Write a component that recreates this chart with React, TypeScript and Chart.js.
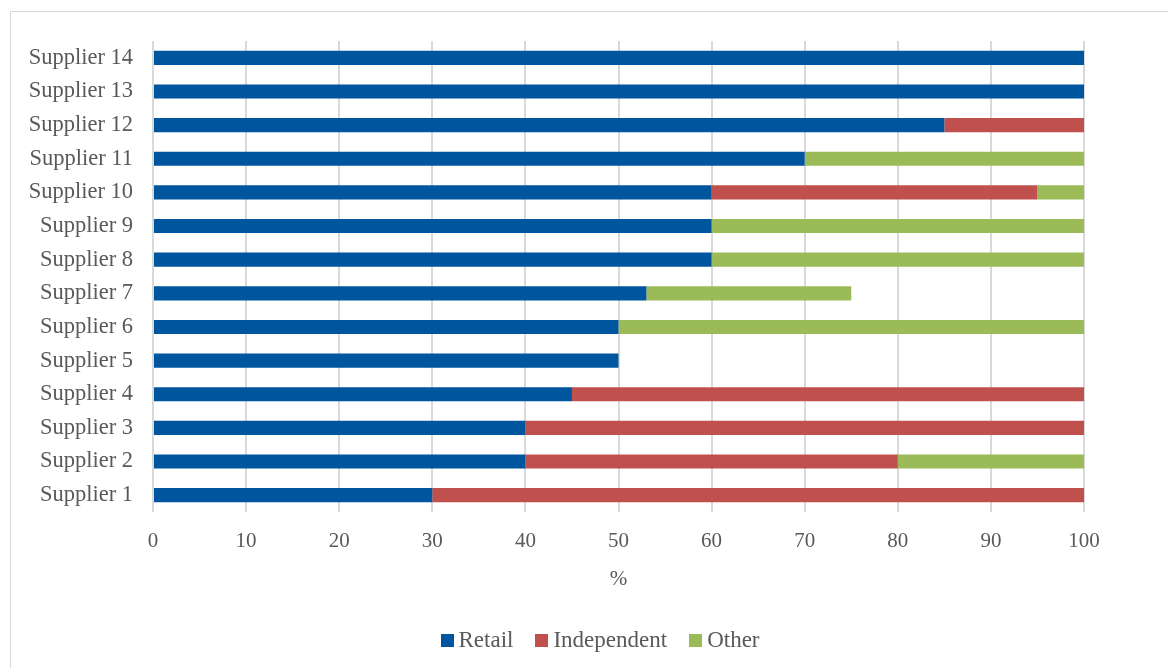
import React, { useEffect, useRef } from "react";
import { Chart, registerables } from "chart.js";

Chart.register(...registerables);

const categories = [
  "Supplier 1", "Supplier 2", "Supplier 3", "Supplier 4", "Supplier 5", "Supplier 6", "Supplier 7",
  "Supplier 8", "Supplier 9", "Supplier 10", "Supplier 11", "Supplier 12", "Supplier 13", "Supplier 14",
];
const retail = [30, 40, 40, 45, 50, 50, 53, 60, 60, 60, 70, 85, 100, 100];
const independent = [70, 40, 60, 55, 0, 0, 0, 0, 0, 35, 0, 15, 0, 0];
const other = [0, 20, 0, 0, 0, 50, 22, 40, 40, 5, 30, 0, 0, 0];
const xTicks = [0, 10, 20, 30, 40, 50, 60, 70, 80, 90, 100];
const seriesNames = ["Retail", "Independent", "Other"];
const seriesColors = ["#00559F", "#C0504D", "#9BBB59"];

const FONT = "'Liberation Serif', 'Times New Roman', serif";
const TEXT = "#595959";

export default function App() {
  const ref = useRef<HTMLCanvasElement | null>(null);

  useEffect(() => {
    if (!ref.current) return;
    const series = [retail, independent, other];
    const chart = new Chart(ref.current, {
      type: "bar",
      data: {
        labels: categories,
        datasets: series.map((d, i) => ({
          label: seriesNames[i],
          data: d,
          backgroundColor: seriesColors[i],
        })),
      },
      options: {
        indexAxis: "y",
        animation: false,
        responsive: false,
        maintainAspectRatio: false,
        datasets: { bar: { barPercentage: 0.84, categoryPercentage: 0.5 } },
        layout: { padding: { top: 41, right: 84, left: 0, bottom: 76 } },
        plugins: {
          tooltip: { enabled: false },
          legend: { display: false },
        },
        scales: {
          x: {
            stacked: true,
            min: 0,
            max: 100,
            afterBuildTicks: (s: any) => {
              s.ticks = xTicks.map((v) => ({ value: v }));
            },
            afterFit: (s: any) => {
              s.height = 80;
            },
            grid: { color: "#D9D9D9", lineWidth: 2, drawTicks: false },
            border: { display: false },
            ticks: { color: TEXT, font: { family: FONT, size: 21 }, padding: 17 },
            title: {
              display: true,
              text: "%",
              color: TEXT,
              font: { family: FONT, size: 21 },
              padding: { top: 0, bottom: 0 },
            },
          },
          y: {
            stacked: true,
            reverse: true,
            afterFit: (s: any) => {
              s.width = 153;
            },
            grid: { display: false, drawTicks: false },
            border: { display: false },
            ticks: { color: TEXT, font: { family: FONT, size: 22.5 }, padding: 20 },
          },
        },
      },
    });
    return () => chart.destroy();
  }, []);

  return (
    <div style={{ position: "fixed", left: 0, top: 0, width: 1168, height: 668, background: "#fff", overflow: "hidden" }}>
      <div
        style={{
          position: "absolute",
          left: 10,
          top: 11,
          width: 1170,
          height: 670,
          border: "1px solid #D9D9D9",
        }}
      />
      <canvas ref={ref} width={1168} height={668} style={{ position: "absolute", left: 0, top: 0 }} />
      <div
        style={{
          position: "absolute",
          left: 0,
          width: 1200,
          top: 627,
          height: 26,
          display: "flex",
          justifyContent: "center",
          alignItems: "center",
          fontFamily: FONT,
          fontSize: 23,
          color: TEXT,
        }}
      >
        {seriesNames.map((n, i) => (
          <div key={n} style={{ display: "flex", alignItems: "center", marginLeft: i ? 22 : 0 }}>
            <span style={{ display: "inline-block", width: 13, height: 13, background: seriesColors[i], marginRight: 5 }} />
            <span>{n}</span>
          </div>
        ))}
      </div>
    </div>
  );
}
